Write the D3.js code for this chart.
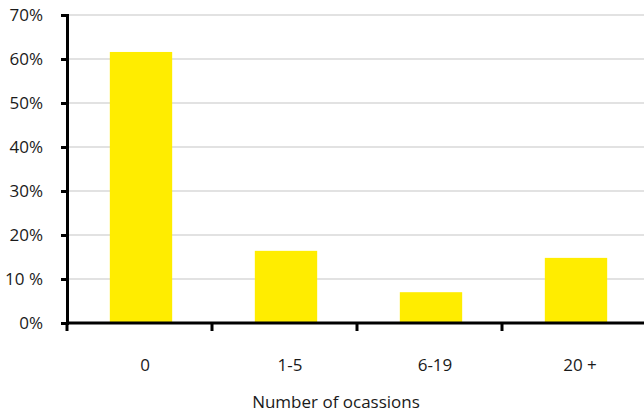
<!DOCTYPE html>
<html><head><meta charset="utf-8">
<script src="https://cdn.jsdelivr.net/npm/d3@7"></script>
<style>body{margin:0;background:#fff}svg{display:block}text{font-family:"Open Sans","Liberation Sans",sans-serif;fill:#1a1a1a}</style>
</head><body><svg id="c" width="644" height="414"></svg>
<script>
const categories = ["0", "1-5", "6-19", "20 +"];
const values = [61.6, 16.4, 7.0, 14.8];
const yTicks = [0, 10, 20, 30, 40, 50, 60, 70];
const yTickLabels = ["0%", "10 %", "20%", "30%", "40%", "50%", "60%", "70%"];
const xTitle = "Number of ocassions";

const svg = d3.select("#c");
const m = {left: 67, right: 0, top: 15, bottom: 91};
const W = 644, H = 414;
const x = d3.scaleBand().domain(categories).range([m.left + 1.5, m.left + 1.5 + 145 * 4]).paddingInner(0.57).paddingOuter(0.285);
const y = d3.scaleLinear().domain([0, 70]).range([H - m.bottom, m.top]);

// gridlines
svg.append("g").selectAll("line").data(yTicks.slice(1)).join("line")
  .attr("x1", m.left).attr("x2", W).attr("y1", d => y(d)).attr("y2", d => y(d))
  .attr("stroke", "#d9d9d9").attr("stroke-width", 1.5);

// bars
svg.append("g").selectAll("rect").data(values).join("rect")
  .attr("x", (d, i) => x(categories[i])).attr("width", x.bandwidth())
  .attr("y", d => y(d)).attr("height", d => y(0) - y(d))
  .attr("fill", "#ffed00");

// y axis
const ya = svg.append("g").attr("transform", `translate(${m.left},0)`)
  .call(d3.axisLeft(y).tickValues(yTicks).tickFormat((d, i) => yTickLabels[i]).tickSize(6).tickPadding(14));
ya.select(".domain").attr("stroke", "#000").attr("stroke-width", 3);
ya.selectAll(".tick line").attr("stroke", "#000").attr("stroke-width", 3);
ya.selectAll("text").style("font-size", "17px").attr("fill", "#1a1a1a").attr("x", -24).attr("text-anchor", "end");

// x axis
const xb = d3.scaleLinear().domain([0, 4]).range([m.left, m.left + 145 * 4]);
const xa = svg.append("g").attr("transform", `translate(0,${y(0)})`);
xa.append("line").attr("x1", m.left).attr("x2", W).attr("y1", 0).attr("y2", 0).attr("stroke", "#000").attr("stroke-width", 3);
xa.selectAll(".xt").data([0, 1, 2, 3]).join("line").attr("class", "xt")
  .attr("x1", d => xb(d)).attr("x2", d => xb(d)).attr("y1", 0).attr("y2", 8)
  .attr("stroke", "#000").attr("stroke-width", 3);
xa.selectAll("text").data(categories).join("text")
  .attr("x", d => x(d) + x.bandwidth() / 2 + 4).attr("y", 48).attr("text-anchor", "middle")
  .style("font-size", "17px").text(d => d);

svg.append("text").attr("x", 336).attr("y", 408).attr("text-anchor", "middle")
  .style("font-size", "17px").text(xTitle);
</script></body></html>
